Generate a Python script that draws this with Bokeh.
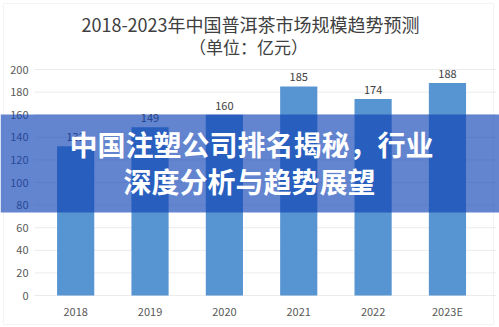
from bokeh.plotting import figure
from bokeh.models import ColumnDataSource, LabelSet, Label, BoxAnnotation, Range1d, FixedTicker
from bokeh.core.properties import value
from bokeh.embed import file_html
from bokeh.resources import INLINE

years = ["2018", "2019", "2020", "2021", "2022", "2023E"]
market_size = [132, 149, 160, 185, 174, 188]
value_labels = ["132", "149", "160", "185", "174", "188"]
y_ticks = [0, 20, 40, 60, 80, 100, 120, 140, 160, 180, 200]

title_line1 = "2018-2023年中国普洱茶市场规模趋势预测"
title_line2 = "（单位：亿元）"
banner_line1 = "中国注塑公司排名揭秘，行业"
banner_line2 = "深度分析与趋势展望"

W, H = 499, 327
FONT = "Noto Sans CJK SC"
x_pos = [i + 0.5 for i in range(len(years))]
src = ColumnDataSource(dict(x=x_pos, top=market_size, lab=value_labels))

# frame covers the whole canvas; ranges chosen so the plot area sits at x 38..484, y 69..295
p = figure(width=W, height=H, x_range=Range1d(-0.511, 6.2), y_range=Range1d(-28.3, 261.1),
           output_backend="svg", toolbar_location=None, min_border=0)
p.outline_line_color = None
p.background_fill_color = "white"
p.border_fill_color = "white"
p.xgrid.grid_line_color = None
p.ygrid.grid_line_color = None

# gridlines
p.segment(x0=-0.05, x1=6.15, y0=y_ticks, y1=y_ticks, line_color="#ebebeb", line_width=1)

p.vbar(x="x", top="top", width=0.5, source=src, fill_color="#5794d2", line_color=None)
p.add_layout(LabelSet(x="x", y="top", text="lab", source=src, text_align="center",
                      text_baseline="bottom", y_offset=5, text_font_size=value("11px"),
                      text_color="#404040", text_font=value(FONT)))

p.yaxis.ticker = FixedTicker(ticks=y_ticks)
p.xaxis.ticker = FixedTicker(ticks=x_pos)
p.xaxis.major_label_overrides = {x: y for x, y in zip(x_pos, years)}
for ax in (p.xaxis[0], p.yaxis[0]):
    ax.axis_line_color = None
    ax.major_tick_line_color = None
    ax.minor_tick_line_color = None
    ax.major_tick_out = 0
    ax.major_tick_in = 0
    ax.major_label_text_font_size = "11px"
    ax.major_label_text_color = "#595959"
    ax.major_label_text_font = FONT
p.yaxis.major_label_standoff = -28
p.xaxis.major_label_standoff = -25


def scr(cx, cy):
    return dict(x=cx, y=H - cy, x_units="screen", y_units="screen")


# outer frame
p.add_layout(BoxAnnotation(left=3, right=493, bottom=H - 324, top=H - 3, left_units="screen",
                           right_units="screen", top_units="screen", bottom_units="screen",
                           fill_alpha=0, line_color="#d9d9d9", line_width=1))

p.add_layout(Label(**scr(250, 23), text=title_line1, text_align="center", text_baseline="middle",
                   text_font_size="18px", text_color="#404040", text_font=FONT))
p.add_layout(Label(**scr(248, 46), text=title_line2, text_align="center", text_baseline="middle",
                   text_font_size="17px", text_color="#404040", text_font=FONT))

# banner
p.add_layout(BoxAnnotation(left=0, right=W, bottom=H - 212, top=H - 114, left_units="screen",
                           right_units="screen", top_units="screen", bottom_units="screen",
                           fill_color="#0f42b6", fill_alpha=0.65, line_color=None))
p.add_layout(Label(**scr(251, 143), text=banner_line1, text_align="center", text_baseline="middle",
                   text_font_size="28px", text_font_style="bold", text_color="white",
                   text_font=FONT))
p.add_layout(Label(**scr(249, 180), text=banner_line2, text_align="center", text_baseline="middle",
                   text_font_size="28px", text_font_style="bold", text_color="white",
                   text_font=FONT))

open("out.html", "w").write(file_html(p, INLINE))
